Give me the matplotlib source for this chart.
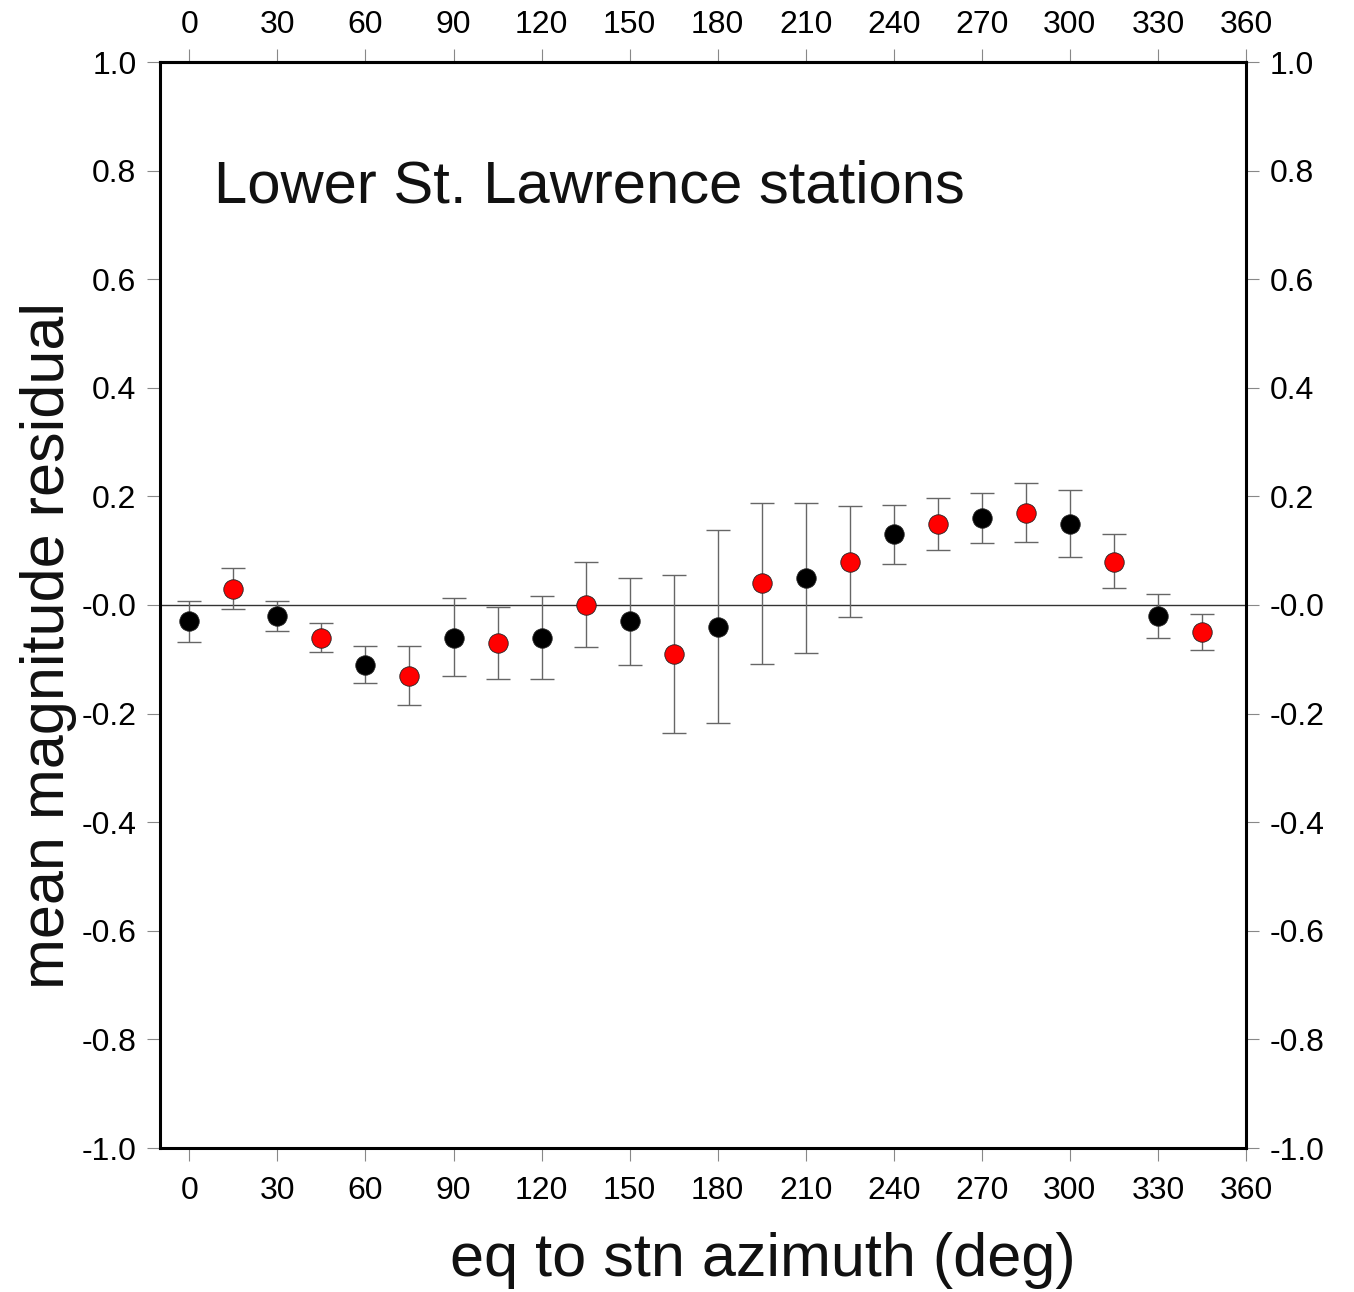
import matplotlib
matplotlib.use("Agg")
import matplotlib.pyplot as plt

plt.rcParams['font.family'] = ['Liberation Sans', 'DejaVu Sans']

azimuth = [0, 15, 30, 45, 60, 75, 90, 105, 120, 135, 150, 165,
           180, 195, 210, 225, 240, 255, 270, 285, 300, 315, 330, 345]
residual = [-0.030, 0.030, -0.020, -0.060, -0.110, -0.130, -0.060, -0.070,
            -0.060, 0.000, -0.030, -0.090, -0.040, 0.040, 0.050, 0.080,
            0.131, 0.150, 0.160, 0.169, 0.150, 0.080, -0.020, -0.050]
err_upper = [0.008, 0.068, 0.007, -0.034, -0.076, -0.076, 0.012, -0.004,
             0.016, 0.079, 0.050, 0.056, 0.139, 0.188, 0.188, 0.183,
             0.184, 0.197, 0.206, 0.225, 0.211, 0.130, 0.020, -0.017]
err_lower = [-0.068, -0.007, -0.047, -0.086, -0.144, -0.185, -0.131, -0.136,
             -0.136, -0.078, -0.110, -0.236, -0.218, -0.109, -0.088, -0.023,
             0.076, 0.101, 0.114, 0.116, 0.088, 0.031, -0.060, -0.083]
point_colors = ['black', 'red'] * 12

xticks = [0, 30, 60, 90, 120, 150, 180, 210, 240, 270, 300, 330, 360]
yticks = [1.0, 0.8, 0.6, 0.4, 0.2, 0.0, -0.2, -0.4, -0.6, -0.8, -1.0]
ytick_labels = ['1.0', '0.8', '0.6', '0.4', '0.2', '-0.0', '-0.2', '-0.4',
                '-0.6', '-0.8', '-1.0']

title_text = 'Lower St. Lawrence stations'
xlabel_text = 'eq to stn azimuth (deg)'
ylabel_text = 'mean magnitude residual'

fig = plt.figure(figsize=(13.54, 12.92), dpi=100)
ax = fig.add_axes([160/1354, 1 - 1148/1292, (1246-160)/1354, (1148-62)/1292])

ax.axhline(0, color='#333333', lw=1.0, zorder=1)

for x, y, hi, lo, c in zip(azimuth, residual, err_upper, err_lower, point_colors):
    ax.errorbar([x], [y], yerr=[[y - lo], [hi - y]], fmt='none',
                ecolor='#666666', elinewidth=1.0, capsize=8.5, capthick=1.0, zorder=2)
    ax.plot([x], [y], 'o', color=c, markersize=14, markeredgecolor='#222222',
            markeredgewidth=0.6, zorder=3)

ax.set_xlim(-10, 360)
ax.set_ylim(-1.0, 1.0)
ax.set_xticks(xticks)
ax.set_xticklabels([str(t) for t in xticks])
ax.set_yticks(yticks)
ax.set_yticklabels(ytick_labels)
ax.tick_params(axis='both', which='both', direction='out', length=9.5,
               width=0.8, color='#888888', labelsize=23,
               top=False, right=True, labeltop=False, labelright=True)
ax.tick_params(axis='x', pad=10.5)
ax.tick_params(axis='y', pad=7.5)
for s in ax.spines.values():
    s.set_linewidth(2.2)
    s.set_color('black')

secax = ax.secondary_xaxis('top')
secax.set_xticks(xticks)
secax.set_xticklabels([str(t) for t in xticks])
secax.tick_params(axis='x', direction='out', length=9.5, width=0.8,
                  color='#888888', labelsize=23, pad=6.5)
secax.spines['top'].set_linewidth(2.2)

ax.text(0.05, 0.871, title_text, transform=ax.transAxes, fontsize=43,
        ha='left', va='baseline', color='#111111')
ax.set_xlabel(xlabel_text, fontsize=44, color='#111111')
ax.xaxis.set_label_coords(0.555, -0.077)
ax.set_ylabel(ylabel_text, fontsize=44, color='#111111')
ax.yaxis.set_label_coords(-0.076, 0.463)

fig.savefig('out.png', dpi=100, facecolor='white')
